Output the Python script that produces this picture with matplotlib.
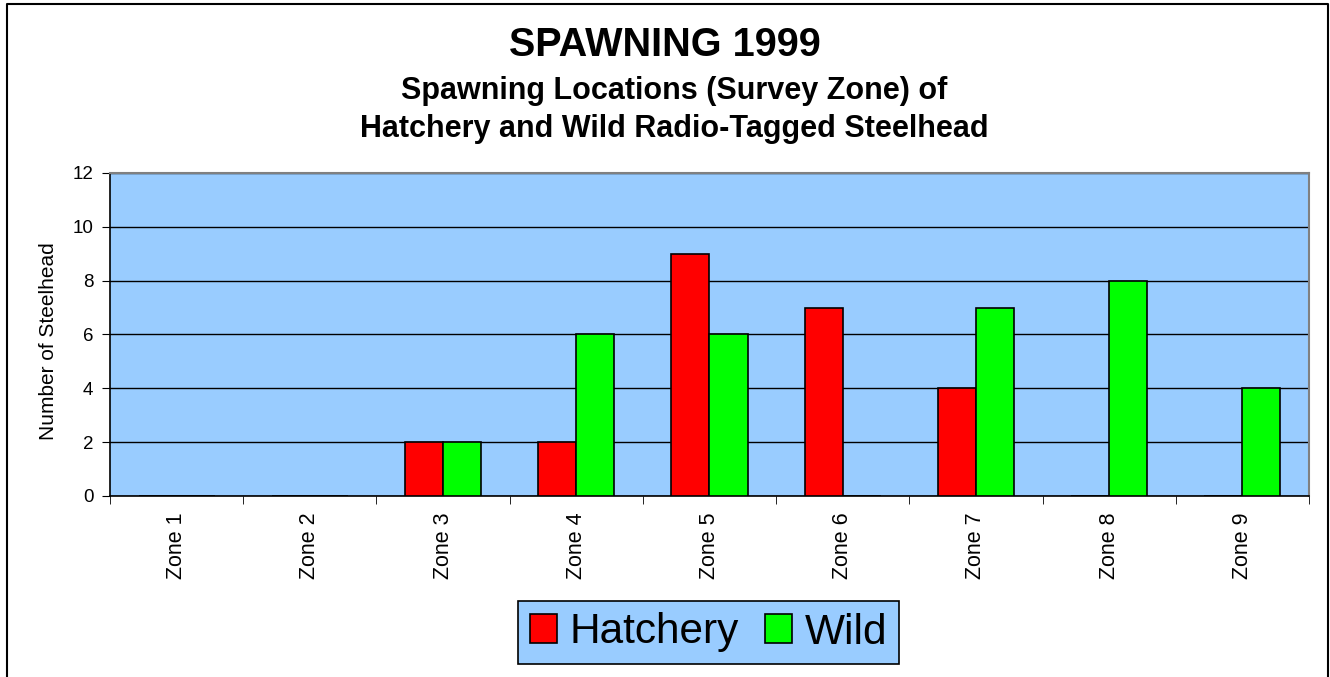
import numpy as np
import matplotlib.pyplot as plt
from matplotlib.lines import Line2D

plt.rcParams['font.family'] = ['Liberation Sans', 'DejaVu Sans']

zones = ["Zone 1", "Zone 2", "Zone 3", "Zone 4", "Zone 5", "Zone 6", "Zone 7", "Zone 8", "Zone 9"]
hatchery = [0, 0, 2, 2, 9, 7, 4, 0, 0]
wild = [0, 0, 2, 6, 6, 0, 7, 8, 4]

fig = plt.figure(figsize=(13.3, 6.77), dpi=100)
ax = fig.add_axes([0.0827, 0.2674, 0.9015, 0.4771])
ax.set_facecolor("#99CCFF")

x = np.arange(len(zones))
w = 0.286
ax.bar(x - w / 2, hatchery, w, color="#FF0000", edgecolor="black", linewidth=1.2, label="Hatchery", zorder=3)
ax.bar(x + w / 2, wild, w, color="#00FF00", edgecolor="black", linewidth=1.2, label="Wild", zorder=3)

ax.set_xlim(-0.5, len(zones) - 0.5)
ax.set_ylim(0, 12)
ax.set_yticks(range(0, 13, 2))
ax.yaxis.grid(True, color="black", linewidth=1, zorder=1)
ax.set_axisbelow(True)

ax.set_xticks(x)
ax.set_xticklabels(zones, rotation=90, fontsize=15.5)
ax.tick_params(axis="x", which="major", length=0, pad=12)
ax.set_xticks(np.arange(-0.5, len(zones), 1), minor=True)
ax.tick_params(axis="x", which="minor", length=6, direction="out", color="black")
ax.tick_params(axis="y", labelsize=13.5, length=6, direction="out", pad=6)

ax.spines["top"].set_color("#808080")
ax.spines["right"].set_color("#808080")
ax.spines["top"].set_linewidth(1.5)
ax.spines["right"].set_linewidth(1.5)
ax.spines["left"].set_linewidth(1.2)
ax.spines["bottom"].set_linewidth(1.2)

ax.set_ylabel("Number of Steelhead", fontsize=15)
ax.yaxis.set_label_coords(-0.043, 0.48)

fig.text(0.5, 1 - 45 / 677, "SPAWNING 1999", ha="center", va="center", fontsize=28.5, fontweight="bold")
fig.text(674 / 1330, 1 - 91 / 677, "Spawning Locations (Survey Zone) of", ha="center", va="center", fontsize=22, fontweight="bold")
fig.text(674 / 1330, 1 - 129 / 677, "Hatchery and Wild Radio-Tagged Steelhead", ha="center", va="center", fontsize=22, fontweight="bold")

leg = fig.legend(loc="center", bbox_to_anchor=(0.5327, 1 - 632.5 / 677), ncol=2, fontsize=30.5,
                 frameon=True, fancybox=False, handlelength=0.65, handleheight=0.65,
                 handletextpad=0.3, columnspacing=0.6, borderpad=0.27, borderaxespad=0)
leg.get_frame().set_facecolor("#99CCFF")
leg.get_frame().set_edgecolor("black")
leg.get_frame().set_linewidth(1.2)
leg.get_frame().set_alpha(1)

# outer chart frame (bottom edge cut off)
x0, x1 = 7 / 1330, 1328 / 1330
y1 = 1 - 4 / 677
fig.add_artist(Line2D([x0, x0, x1, x1], [0, y1, y1, 0], color="black", linewidth=1.5))

fig.savefig("out.png", dpi=100)
